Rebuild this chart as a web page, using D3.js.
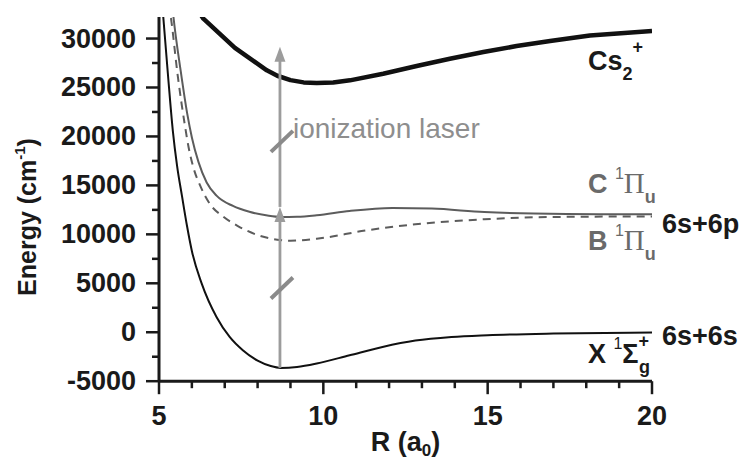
<!DOCTYPE html>
<html><head><meta charset="utf-8">
<script src="https://cdn.jsdelivr.net/npm/d3@7"></script>
<style>html,body{margin:0;padding:0;background:#fff;} svg{display:block;}</style>
</head><body>
<svg id="chart" width="740" height="460"></svg>
<script>
// ---- data ----
const xTicks = [5, 10, 15, 20];
const xMinorTicks = [6, 7, 8, 9, 11, 12, 13, 14, 16, 17, 18, 19];
const yTicks = [-5000, 0, 5000, 10000, 15000, 20000, 25000, 30000];
const yMinorTicks = [-2500, 2500, 7500, 12500, 17500, 22500, 27500];

// X 1Σg+ ground state
const R_X = [5.13, 5.27, 5.42, 5.55, 5.7, 5.85, 6.0, 6.3, 6.75, 7.15, 7.55, 8.0, 8.4, 8.7, 9.2, 9.8, 10.8, 11.8, 12.8, 13.9, 15, 17, 20];
const E_X = [32200, 26400, 20600, 17000, 13900, 10900, 8300, 4970, 1560, -480, -1840, -2900, -3450, -3640, -3550, -3200, -2350, -1500, -850, -480, -300, -130, -30];
// B 1Πu (dashed)
const R_B = [5.3, 5.36, 5.57, 5.78, 5.9, 6.04, 6.25, 6.55, 6.96, 7.4, 8.07, 8.6, 9.0, 9.8, 11.3, 12.8, 14.9, 16.9, 20];
const E_B = [33500, 32200, 26200, 21300, 18900, 16900, 15000, 13100, 11800, 10850, 9850, 9450, 9350, 9550, 10400, 11030, 11540, 11770, 11830];
// C 1Πu
const R_C = [5.4, 5.44, 5.66, 5.86, 6.0, 6.2, 6.45, 6.75, 7.25, 7.75, 8.3, 8.7, 9.2, 9.8, 10.8, 12.1, 13.3, 14.9, 16.4, 18.4, 20];
const E_C = [33500, 32200, 26700, 22300, 19900, 17400, 15300, 13950, 12900, 12300, 11920, 11780, 11800, 11950, 12390, 12700, 12630, 12280, 12120, 12050, 12050];
// Cs2+ ion
const R_Cs = [6.1, 6.35, 7.31, 8.28, 8.6, 9.0, 9.4, 9.8, 10.3, 10.81, 11.82, 12.84, 13.85, 14.87, 15.88, 16.9, 18.11, 20];
const E_Cs = [33300, 32030, 29050, 26750, 26200, 25750, 25520, 25450, 25520, 25730, 26410, 27190, 27940, 28620, 29230, 29740, 30320, 30760];

// excitation arrows (R, from E, to E)
const arrowR = [8.68, 8.68];
const arrowFrom = [-3640, 12800];
const arrowTo = [12800, 29150];
// break marks on the arrows (energy of centre)
const slashE = [4520, 19500];

// ---- layout ----
const svg = d3.select("#chart");
const x = d3.scaleLinear().domain([5, 20]).range([159, 652]);
const y = d3.scaleLinear().domain([-5000, 32200]).range([381.2, 17]);
const FONT = "'Liberation Sans', Arial, Helvetica, sans-serif";
const SERIF = "'Liberation Serif', 'Times New Roman', serif";

svg.append("defs").append("clipPath").attr("id", "plot")
  .append("rect").attr("x", x(5)).attr("y", y(32200)).attr("width", x(20) - x(5)).attr("height", y(-5000) - y(32200));

const line = (R, E, curve) => d3.line().curve(curve)
  .x((d, i) => x(R[i])).y((d, i) => y(E[i]))(R);

const g = svg.append("g").attr("clip-path", "url(#plot)");
g.append("path").attr("d", line(R_X, E_X, d3.curveMonotoneX))
  .attr("fill", "none").attr("stroke", "#111").attr("stroke-width", 2);
g.append("path").attr("d", line(R_B, E_B, d3.curveMonotoneX))
  .attr("fill", "none").attr("stroke", "#5c5c5c").attr("stroke-width", 2).attr("stroke-dasharray", "8,6");
g.append("path").attr("d", line(R_C, E_C, d3.curveMonotoneX))
  .attr("fill", "none").attr("stroke", "#5c5c5c").attr("stroke-width", 2);
g.append("path").attr("d", line(R_Cs, E_Cs, d3.curveLinear))
  .attr("fill", "none").attr("stroke", "#111").attr("stroke-width", 4.5).attr("stroke-linejoin", "round");

// arrows
const ARROW = "#9c9c9c";
arrowR.forEach((r, i) => {
  const ax = x(r), y0 = y(arrowFrom[i]), y1 = y(arrowTo[i]);
  svg.append("line").attr("x1", ax).attr("x2", ax).attr("y1", y0).attr("y2", y1 + 12)
    .attr("stroke", ARROW).attr("stroke-width", 2.8);
  svg.append("path").attr("d", `M${ax},${y1} L${ax - 5.5},${y1 + 15} L${ax + 5.5},${y1 + 15} Z`)
    .attr("fill", ARROW);
});
slashE.forEach(e => {
  const cx = x(arrowR[0]) + 2, cy = y(e);
  svg.append("line").attr("x1", cx - 11).attr("y1", cy + 10.5).attr("x2", cx + 11).attr("y2", cy - 10.5)
    .attr("stroke", "#8a8a8a").attr("stroke-width", 4);
});
svg.append("text").attr("x", x(arrowR[0]) + 13).attr("y", y(19500) - 3)
  .attr("font-family", FONT).attr("font-size", 28).attr("fill", "#8e8e8e").text("ionization laser");

// ---- axes ----
const AX = "#1a1a1a";
const axis = svg.append("g");
axis.append("line").attr("x1", x(5)).attr("x2", x(20)).attr("y1", y(-5000)).attr("y2", y(-5000))
  .attr("stroke", AX).attr("stroke-width", 3);
axis.append("line").attr("x1", x(5)).attr("x2", x(5)).attr("y1", y(32200)).attr("y2", y(-5000))
  .attr("stroke", AX).attr("stroke-width", 3);
xTicks.forEach(t => axis.append("line").attr("x1", x(t)).attr("x2", x(t)).attr("y1", y(-5000)).attr("y2", y(-5000) + 13).attr("stroke", AX).attr("stroke-width", 2.5));
xMinorTicks.forEach(t => axis.append("line").attr("x1", x(t)).attr("x2", x(t)).attr("y1", y(-5000)).attr("y2", y(-5000) + 7).attr("stroke", AX).attr("stroke-width", 2.5));
yTicks.forEach(t => axis.append("line").attr("x1", x(5) - 13).attr("x2", x(5)).attr("y1", y(t)).attr("y2", y(t)).attr("stroke", AX).attr("stroke-width", 2.5));
yMinorTicks.forEach(t => axis.append("line").attr("x1", x(5) - 7).attr("x2", x(5)).attr("y1", y(t)).attr("y2", y(t)).attr("stroke", AX).attr("stroke-width", 2.5));

xTicks.forEach(t => axis.append("text").attr("x", x(t)).attr("y", 425).attr("text-anchor", "middle")
  .attr("font-family", FONT).attr("font-weight", "bold").attr("font-size", 27).attr("fill", AX).text(t));
yTicks.forEach(t => axis.append("text").attr("x", 136).attr("y", y(t) + 9).attr("text-anchor", "end")
  .attr("font-family", FONT).attr("font-weight", "bold").attr("font-size", 27).attr("fill", AX).text(t));

// axis titles
const yt = svg.append("text").attr("transform", "translate(36,217) rotate(-90)").attr("text-anchor", "middle")
  .attr("font-family", FONT).attr("font-weight", "bold").attr("font-size", 25).attr("fill", AX);
yt.append("tspan").text("Energy (cm");
yt.append("tspan").attr("font-size", 15).attr("dy", -11).text("-1");
yt.append("tspan").attr("dy", 11).text(")");

const xt = svg.append("text").attr("x", (x(5) + x(20)) / 2).attr("y", 451).attr("text-anchor", "middle")
  .attr("font-family", FONT).attr("font-weight", "bold").attr("font-size", 27).attr("fill", AX);
xt.append("tspan").text("R (a");
xt.append("tspan").attr("font-size", 17).attr("dy", 5).text("0");
xt.append("tspan").attr("dy", -5).text(")");

// ---- state labels ----
const lx = x(18.05);
const cs = svg.append("text").attr("x", lx).attr("y", 70).attr("font-family", FONT).attr("font-weight", "bold")
  .attr("font-size", 27).attr("fill", AX);
cs.append("tspan").text("Cs");
cs.append("tspan").attr("font-size", 18).attr("dy", 10).text("2");
cs.append("tspan").attr("font-size", 18).attr("dy", -27).text("+");

function piLabel(letter, baseY) {
  const t = svg.append("text").attr("x", lx).attr("y", baseY).attr("font-family", FONT).attr("font-weight", "bold")
    .attr("font-size", 27).attr("fill", "#6a6a6a");
  t.append("tspan").text(letter + " ");
  t.append("tspan").attr("font-size", 16).attr("font-weight", "normal").attr("dy", -14).text("1");
  t.append("tspan").attr("font-family", SERIF).attr("font-weight", "normal").attr("font-size", 29).attr("dy", 14).text("\u03A0");
  t.append("tspan").attr("font-size", 18).attr("dy", 10).text("u");
}
piLabel("C", 193);
piLabel("B", 250);

const xl = svg.append("text").attr("x", lx).attr("y", 363).attr("font-family", FONT).attr("font-weight", "bold")
  .attr("font-size", 27).attr("fill", AX);
xl.append("tspan").text("X ");
xl.append("tspan").attr("font-size", 16).attr("font-weight", "normal").attr("dy", -14).text("1");
xl.append("tspan").attr("dy", 14).text("\u03A3");
xl.append("tspan").attr("font-size", 18).attr("dy", -16).text("+");
xl.append("tspan").attr("font-size", 18).attr("dx", -10).attr("dy", 26).text("g");

[["6s+6p", 233], ["6s+6s", 345]].forEach(([s, yy]) =>
  svg.append("text").attr("x", x(20) + 10).attr("y", yy).attr("font-family", FONT).attr("font-weight", "bold")
    .attr("font-size", 27).attr("fill", AX).text(s));
</script>
</body></html>
